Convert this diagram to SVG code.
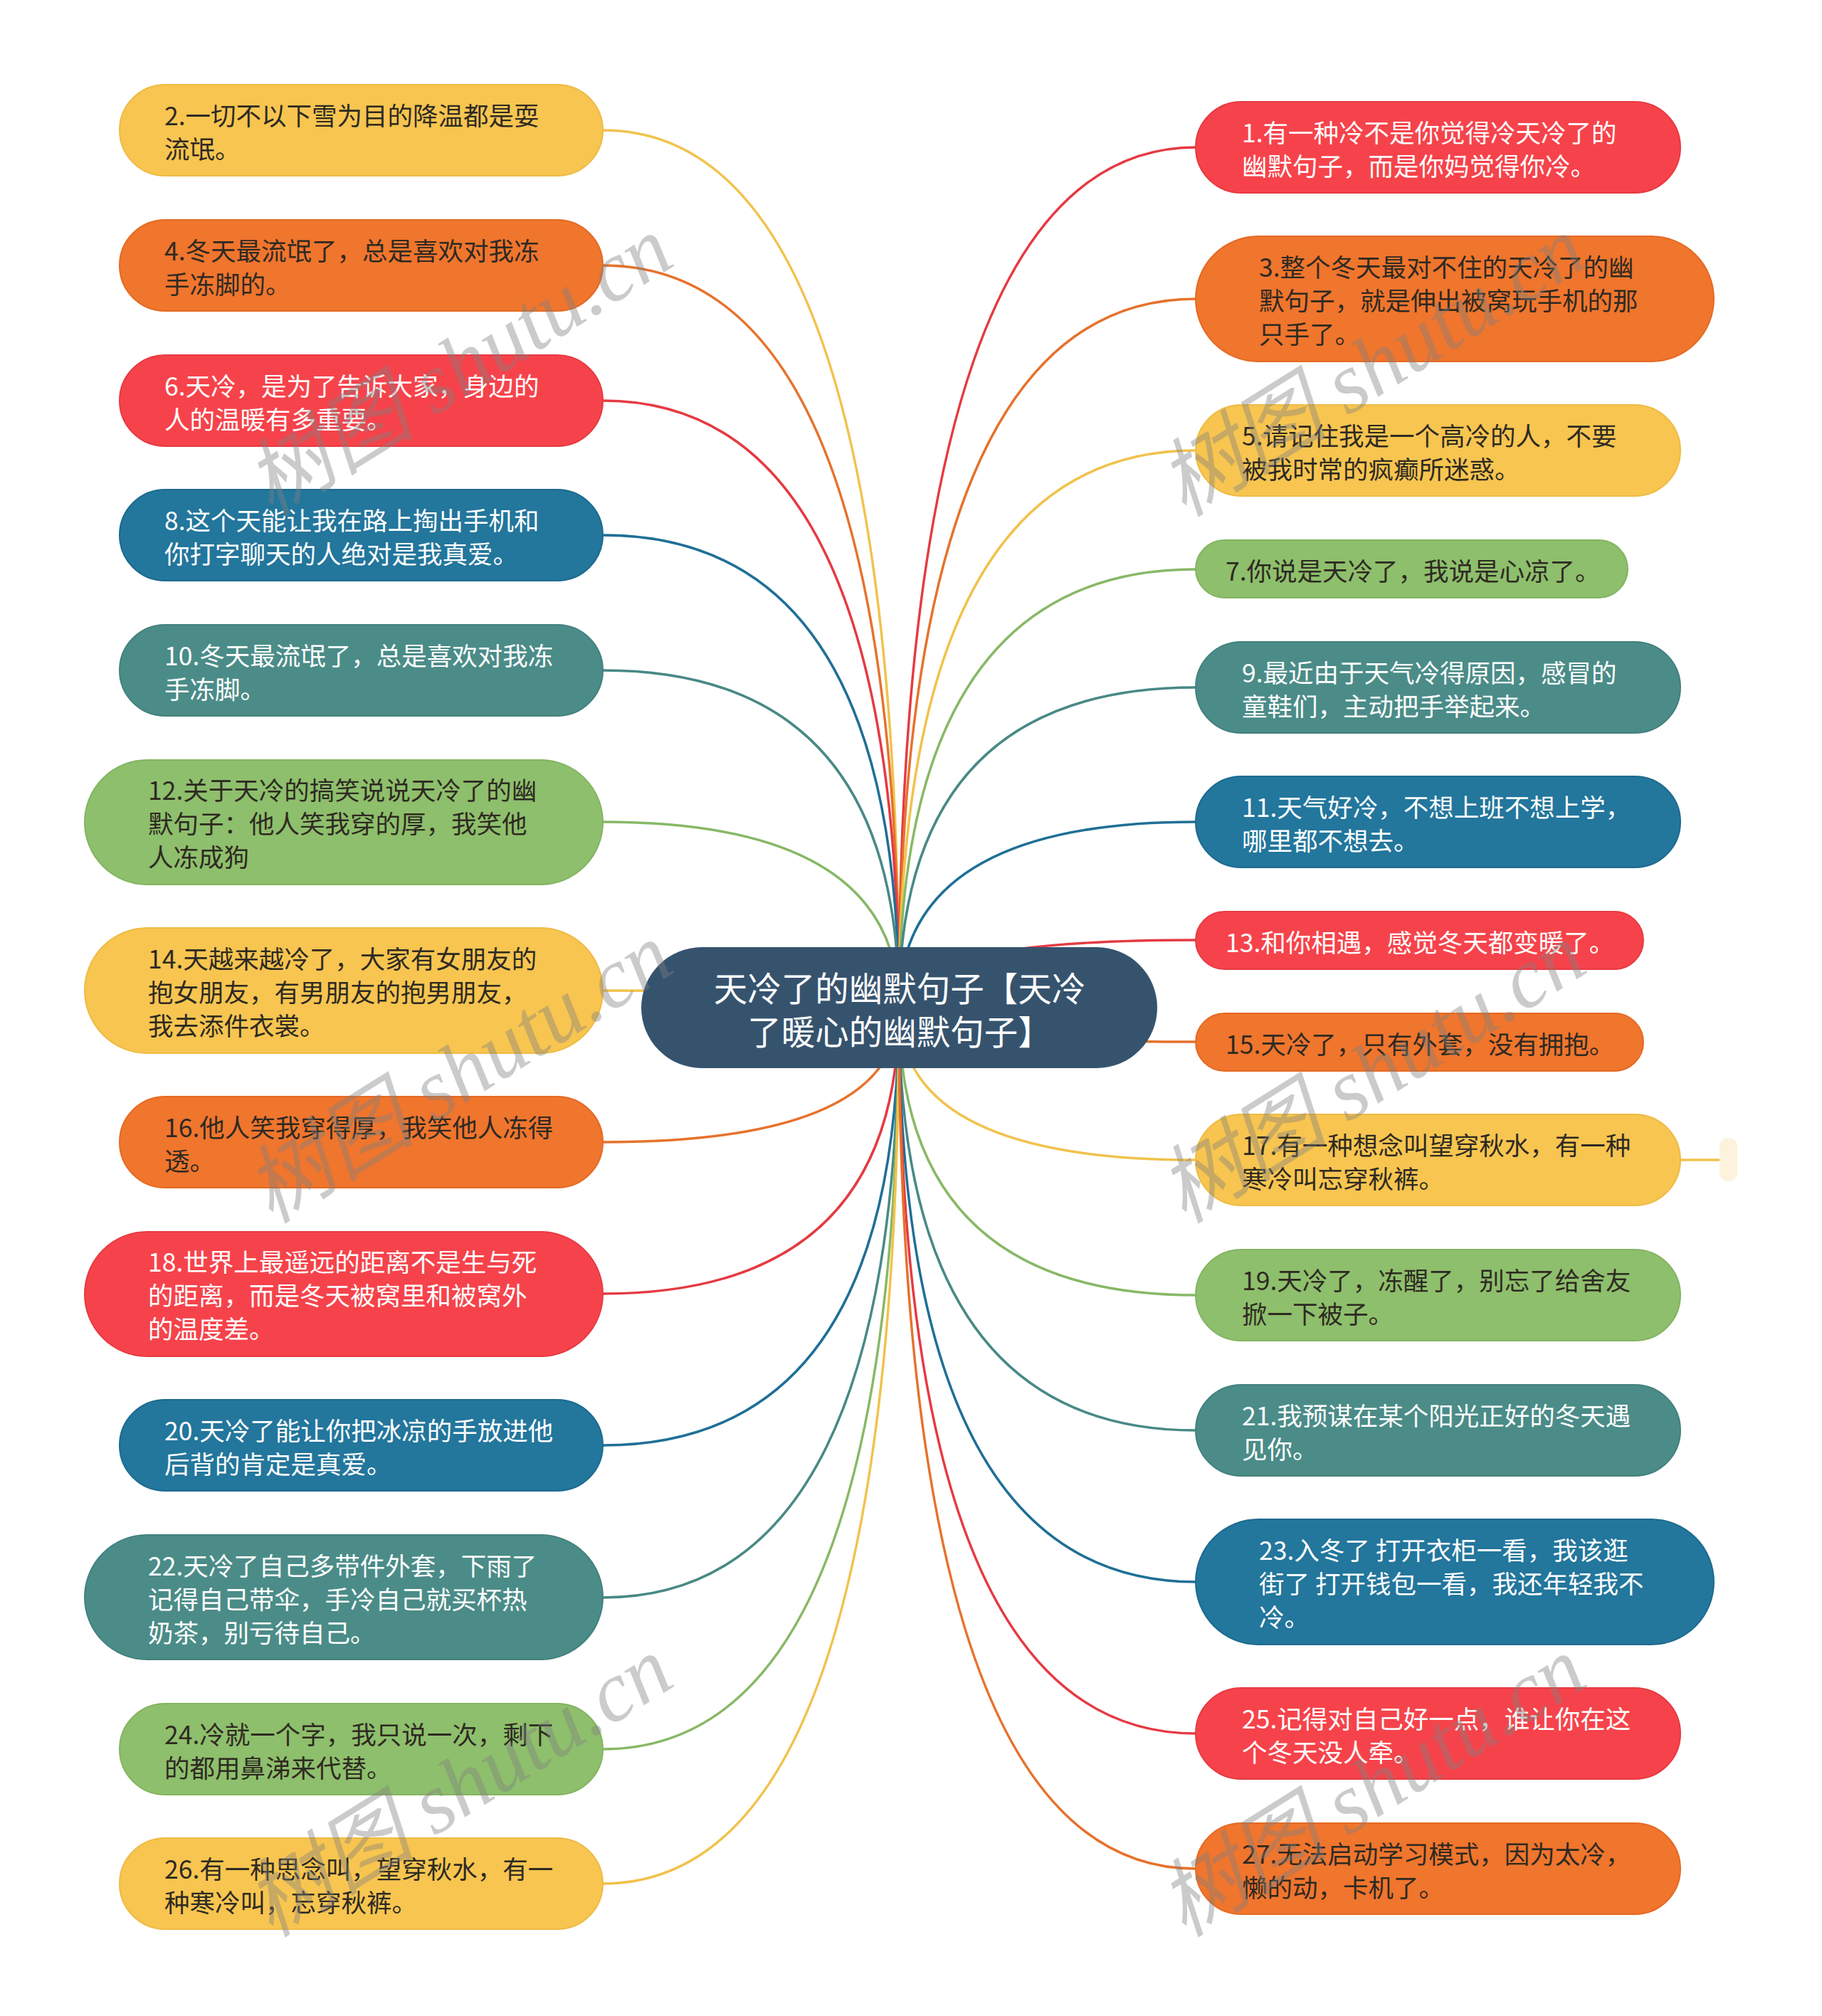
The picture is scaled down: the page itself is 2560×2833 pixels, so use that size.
<svg xmlns="http://www.w3.org/2000/svg" width="2560" height="2833" viewBox="0 0 2560 2833">
<style>
.t{font-family:"Noto Sans CJK SC","Noto Sans",sans-serif;font-size:35.5px;dominant-baseline:central}
.ct{font-family:"Noto Sans CJK SC","Noto Sans",sans-serif;font-size:47.5px;fill:#fff;text-anchor:middle;dominant-baseline:central}
.d{fill:#2e2a22}
.w{fill:#ffffff}
.yel{fill:#f7c550;stroke:#eebb44;stroke-width:2}
.ora{fill:#f0752d;stroke:#e46a24;stroke-width:2}
.red{fill:#f6434b;stroke:#e63a42;stroke-width:2}
.blu{fill:#23769c;stroke:#1d6a8e;stroke-width:2}
.tea{fill:#4b8c88;stroke:#43817d;stroke-width:2}
.gre{fill:#8ebf6c;stroke:#84b462;stroke-width:2}
.c path{fill:none;stroke-width:3.5}
.cy{stroke:#f1c24c}.co{stroke:#e6722c}.cr{stroke:#e53a42}.cb{stroke:#1f6f96}.ct2{stroke:#488985}.cg{stroke:#88b866}
.wm{font-family:"Liberation Serif","Noto Sans CJK SC",serif;font-style:italic;font-size:120px;fill:#808080;opacity:0.4;text-anchor:middle;dominant-baseline:central}
</style>
<rect width="2560" height="2833" fill="#ffffff"/>
<g class="c" id="connectors">
<path class="cy" d="M1263 1416 Q1263 183 847 183"/>
<path class="co" d="M1263 1416 Q1263 373 847 373"/>
<path class="cr" d="M1263 1416 Q1263 563 847 563"/>
<path class="cb" d="M1263 1416 Q1263 752 847 752"/>
<path class="ct2" d="M1263 1416 Q1263 942 847 942"/>
<path class="cg" d="M1263 1416 Q1263 1155 847 1155"/>
<path class="cy" d="M1263 1416 Q1263 1392 847 1392"/>
<path class="co" d="M1263 1416 Q1263 1605 847 1605"/>
<path class="cr" d="M1263 1416 Q1263 1818 847 1818"/>
<path class="cb" d="M1263 1416 Q1263 2031 847 2031"/>
<path class="ct2" d="M1263 1416 Q1263 2245 847 2245"/>
<path class="cg" d="M1263 1416 Q1263 2458 847 2458"/>
<path class="cy" d="M1263 1416 Q1263 2647 847 2647"/>
<path class="cr" d="M1263 1416 Q1263 207 1680 207"/>
<path class="co" d="M1263 1416 Q1263 420 1680 420"/>
<path class="cy" d="M1263 1416 Q1263 633 1680 633"/>
<path class="cg" d="M1263 1416 Q1263 800 1680 800"/>
<path class="ct2" d="M1263 1416 Q1263 966 1680 966"/>
<path class="cb" d="M1263 1416 Q1263 1155 1680 1155"/>
<path class="cr" d="M1263 1416 Q1263 1321 1680 1321"/>
<path class="co" d="M1263 1416 Q1263 1464 1680 1464"/>
<path class="cy" d="M1263 1416 Q1263 1630 1680 1630"/>
<path class="cg" d="M1263 1416 Q1263 1820 1680 1820"/>
<path class="ct2" d="M1263 1416 Q1263 2010 1680 2010"/>
<path class="cb" d="M1263 1416 Q1263 2223 1680 2223"/>
<path class="cr" d="M1263 1416 Q1263 2436 1680 2436"/>
<path class="co" d="M1263 1416 Q1263 2626 1680 2626"/>
<path class="cy" d="M2361 1630 L2416 1630"/>
</g>
<g id="center"><rect x="901" y="1331" width="725" height="170" rx="85" fill="#36536e"/>
<text class="ct" x="1264" y="1386">天冷了的幽默句子【天冷</text>
<text class="ct" x="1264" y="1447">了暖心的幽默句子】</text></g>
<g id="n2"><rect class="yel" x="168" y="119" width="679" height="128" rx="64"/><text class="t d" x="231" y="160">2.一切不以下雪为目的降温都是耍</text><text class="t d" x="231" y="207">流氓。</text></g>
<g id="n4"><rect class="ora" x="168" y="309" width="679" height="128" rx="64"/><text class="t d" x="231" y="350">4.冬天最流氓了，总是喜欢对我冻</text><text class="t d" x="231" y="397">手冻脚的。</text></g>
<g id="n6"><rect class="red" x="168" y="499" width="679" height="128" rx="64"/><text class="t w" x="231" y="540">6.天冷，是为了告诉大家，身边的</text><text class="t w" x="231" y="587">人的温暖有多重要。</text></g>
<g id="n8"><rect class="blu" x="168" y="688" width="679" height="128" rx="64"/><text class="t w" x="231" y="729">8.这个天能让我在路上掏出手机和</text><text class="t w" x="231" y="776">你打字聊天的人绝对是我真爱。</text></g>
<g id="n10"><rect class="tea" x="168" y="878" width="679" height="128" rx="64"/><text class="t w" x="231" y="919">10.冬天最流氓了，总是喜欢对我冻</text><text class="t w" x="231" y="966">手冻脚。</text></g>
<g id="n12"><rect class="gre" x="119" y="1068" width="728" height="175" rx="87.5"/><text class="t d" x="208" y="1108">12.关于天冷的搞笑说说天冷了的幽</text><text class="t d" x="208" y="1155">默句子：他人笑我穿的厚，我笑他</text><text class="t d" x="208" y="1202">人冻成狗</text></g>
<g id="n14"><rect class="yel" x="119" y="1304" width="728" height="176" rx="88"/><text class="t d" x="208" y="1345">14.天越来越冷了，大家有女朋友的</text><text class="t d" x="208" y="1392">抱女朋友，有男朋友的抱男朋友，</text><text class="t d" x="208" y="1439">我去添件衣裳。</text></g>
<g id="n16"><rect class="ora" x="168" y="1541" width="679" height="128" rx="64"/><text class="t d" x="231" y="1582">16.他人笑我穿得厚，我笑他人冻得</text><text class="t d" x="231" y="1629">透。</text></g>
<g id="n18"><rect class="red" x="119" y="1731" width="728" height="175" rx="87.5"/><text class="t w" x="208" y="1771">18.世界上最遥远的距离不是生与死</text><text class="t w" x="208" y="1818">的距离，而是冬天被窝里和被窝外</text><text class="t w" x="208" y="1865">的温度差。</text></g>
<g id="n20"><rect class="blu" x="168" y="1967" width="679" height="128" rx="64"/><text class="t w" x="231" y="2008">20.天冷了能让你把冰凉的手放进他</text><text class="t w" x="231" y="2055">后背的肯定是真爱。</text></g>
<g id="n22"><rect class="tea" x="119" y="2157" width="728" height="175" rx="87.5"/><text class="t w" x="208" y="2198">22.天冷了自己多带件外套，下雨了</text><text class="t w" x="208" y="2245">记得自己带伞，手冷自己就买杯热</text><text class="t w" x="208" y="2292">奶茶，别亏待自己。</text></g>
<g id="n24"><rect class="gre" x="168" y="2394" width="679" height="128" rx="64"/><text class="t d" x="231" y="2435">24.冷就一个字，我只说一次，剩下</text><text class="t d" x="231" y="2482">的都用鼻涕来代替。</text></g>
<g id="n26"><rect class="yel" x="168" y="2583" width="679" height="128" rx="64"/><text class="t d" x="231" y="2624">26.有一种思念叫，望穿秋水，有一</text><text class="t d" x="231" y="2671">种寒冷叫，忘穿秋裤。</text></g>
<g id="n1"><rect class="red" x="1680" y="143" width="681" height="128" rx="64"/><text class="t w" x="1745" y="184">1.有一种冷不是你觉得冷天冷了的</text><text class="t w" x="1745" y="231">幽默句子，而是你妈觉得你冷。</text></g>
<g id="n3"><rect class="ora" x="1680" y="332" width="728" height="176" rx="88"/><text class="t d" x="1769" y="373">3.整个冬天最对不住的天冷了的幽</text><text class="t d" x="1769" y="420">默句子，就是伸出被窝玩手机的那</text><text class="t d" x="1769" y="467">只手了。</text></g>
<g id="n5"><rect class="yel" x="1680" y="569" width="681" height="128" rx="64"/><text class="t d" x="1745" y="610">5.请记住我是一个高冷的人，不要</text><text class="t d" x="1745" y="657">被我时常的疯癫所迷惑。</text></g>
<g id="n7"><rect class="gre" x="1680" y="759" width="607" height="81" rx="40.5"/><text class="t d" x="1722" y="800">7.你说是天冷了，我说是心凉了。</text></g>
<g id="n9"><rect class="tea" x="1680" y="902" width="681" height="128" rx="64"/><text class="t w" x="1745" y="943">9.最近由于天气冷得原因，感冒的</text><text class="t w" x="1745" y="990">童鞋们，主动把手举起来。</text></g>
<g id="n11"><rect class="blu" x="1680" y="1091" width="681" height="128" rx="64"/><text class="t w" x="1745" y="1132">11.天气好冷，不想上班不想上学，</text><text class="t w" x="1745" y="1179">哪里都不想去。</text></g>
<g id="n13"><rect class="red" x="1680" y="1281" width="629" height="81" rx="40.5"/><text class="t w" x="1722" y="1322">13.和你相遇，感觉冬天都变暖了。</text></g>
<g id="n15"><rect class="ora" x="1680" y="1424" width="629" height="81" rx="40.5"/><text class="t d" x="1722" y="1465">15.天冷了，只有外套，没有拥抱。</text></g>
<g id="n17"><rect class="yel" x="1680" y="1566" width="681" height="128" rx="64"/><text class="t d" x="1745" y="1607">17.有一种想念叫望穿秋水，有一种</text><text class="t d" x="1745" y="1654">寒冷叫忘穿秋裤。</text></g>
<g id="n17s"><rect x="2416" y="1599" width="25" height="61" rx="12" fill="#fdf2dc"/></g>
<g id="n19"><rect class="gre" x="1680" y="1756" width="681" height="128" rx="64"/><text class="t d" x="1745" y="1797">19.天冷了，冻醒了，别忘了给舍友</text><text class="t d" x="1745" y="1844">掀一下被子。</text></g>
<g id="n21"><rect class="tea" x="1680" y="1946" width="681" height="128" rx="64"/><text class="t w" x="1745" y="1987">21.我预谋在某个阳光正好的冬天遇</text><text class="t w" x="1745" y="2034">见你。</text></g>
<g id="n23"><rect class="blu" x="1680" y="2135" width="728" height="176" rx="88"/><text class="t w" x="1769" y="2176">23.入冬了 打开衣柜一看，我该逛</text><text class="t w" x="1769" y="2223">街了 打开钱包一看，我还年轻我不</text><text class="t w" x="1769" y="2270">冷。</text></g>
<g id="n25"><rect class="red" x="1680" y="2372" width="681" height="128" rx="64"/><text class="t w" x="1745" y="2413">25.记得对自己好一点，谁让你在这</text><text class="t w" x="1745" y="2460">个冬天没人牵。</text></g>
<g id="n27"><rect class="ora" x="1680" y="2562" width="681" height="128" rx="64"/><text class="t d" x="1745" y="2603">27.无法启动学习模式，因为太冷，</text><text class="t d" x="1745" y="2650">懒的动，卡机了。</text></g>
<g id="watermarks">
<text class="wm" transform="translate(645 515) rotate(-32)">树图 shutu.cn</text>
<text class="wm" transform="translate(645 1508) rotate(-32)">树图 shutu.cn</text>
<text class="wm" transform="translate(645 2511) rotate(-32)">树图 shutu.cn</text>
<text class="wm" transform="translate(1928 515) rotate(-32)">树图 shutu.cn</text>
<text class="wm" transform="translate(1928 1508) rotate(-32)">树图 shutu.cn</text>
<text class="wm" transform="translate(1928 2511) rotate(-32)">树图 shutu.cn</text>
</g>
</svg>
